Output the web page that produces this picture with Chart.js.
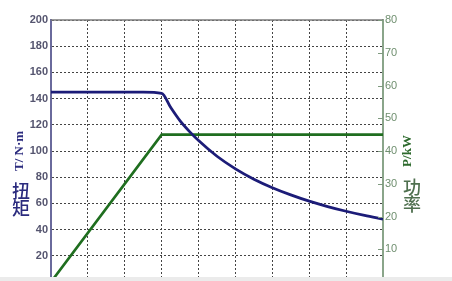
<!DOCTYPE html>
<html><head><meta charset="utf-8">
<script src="https://cdn.jsdelivr.net/npm/chart.js@4.4.0/dist/chart.umd.min.js"></script>
<style>
html,body{margin:0;padding:0;background:#fff;overflow:hidden;width:452px;height:281px;}
#wrap{position:absolute;left:0;top:0;width:452px;height:300px;}
#band{position:absolute;left:0;top:277px;width:452px;height:4px;background:#ebebeb;}
</style></head>
<body>
<div id="wrap"><canvas id="c" width="452" height="300"></canvas></div>
<div id="band"></div>
<script>
// Data
const torqueX = [0, 2.5, 3, 3.25, 3.5, 3.75, 4, 4.5, 5, 5.5, 6, 6.5, 7, 7.5, 8, 8.5, 9];
const torqueY = [145, 145, 144, 133, 123, 115, 108, 96, 86.4, 78.5, 72, 66.5, 61.7, 57.6, 54, 50.8, 48];
const powerX = [0, 3, 9];
const powerY = [0, 45, 45];
const leftTitle = "T/ N·m";
const leftTitleCn = ["扭", "矩"];
const rightTitle = "P/kW";
const rightTitleCn = ["功", "率"];

const pts = (xs, ys) => xs.map((x, i) => ({x: x, y: ys[i]}));

const deco = {
  id: 'deco',
  afterDraw(chart) {
    const ctx = chart.ctx, a = chart.chartArea;
    const r = chart.scales.y2;
    ctx.save();
    ctx.strokeStyle = '#7a7a7a'; ctx.lineWidth = 1.5;
    ctx.beginPath(); ctx.moveTo(a.left, a.top); ctx.lineTo(a.right, a.top); ctx.stroke();
    ctx.strokeStyle = '#7f9a7f'; ctx.lineWidth = 1;
    r.ticks.forEach(t => {
      const y = Math.round(r.getPixelForValue(t.value)) + 0.5;
      ctx.beginPath(); ctx.moveTo(a.right - 5, y); ctx.lineTo(a.right, y); ctx.stroke();
    });
    ctx.fillStyle = '#2b2b7e';
    ctx.font = 'bold 13px "Liberation Serif", serif';
    ctx.textAlign = 'center'; ctx.textBaseline = 'middle';
    ctx.save(); ctx.translate(20, 151); ctx.rotate(-Math.PI / 2); ctx.fillText(leftTitle, 0, 0); ctx.restore();
    ctx.font = '500 18px "Noto Sans CJK SC", sans-serif';
    ctx.fillText(leftTitleCn[0], 21, 191);
    ctx.fillText(leftTitleCn[1], 21, 208);
    ctx.fillStyle = '#2d6a2d';
    ctx.font = 'bold 13px "Liberation Serif", serif';
    ctx.save(); ctx.translate(408, 151); ctx.rotate(-Math.PI / 2); ctx.fillText(rightTitle, 0, 0); ctx.restore();
    ctx.fillStyle = '#4f704f';
    ctx.font = '500 18px "Noto Sans CJK SC", sans-serif';
    ctx.fillText(rightTitleCn[0], 412, 187);
    ctx.fillText(rightTitleCn[1], 412, 204);
    ctx.restore();
  }
};

new Chart(document.getElementById('c'), {
  type: 'line',
  data: {
    datasets: [
      {label: 'T', data: pts(torqueX, torqueY), yAxisID: 'y', borderColor: '#1c1c78', borderWidth: 2.8, pointRadius: 0, cubicInterpolationMode: 'monotone'},
      {label: 'P', data: pts(powerX, powerY), yAxisID: 'y2', borderColor: '#1f6e1f', borderWidth: 2.6, pointRadius: 0, tension: 0}
    ]
  },
  options: {
    responsive: false,
    animation: false,
    events: [],
    layout: {padding: {top: 20, left: 0, right: 0, bottom: 0}},
    plugins: {legend: {display: false}, tooltip: {enabled: false}},
    scales: {
      x: {
        type: 'linear', min: 0, max: 9,
        ticks: {display: false, stepSize: 1},
        grid: {color: '#444', lineWidth: 1, drawTicks: false},
        border: {display: false, dash: [2, 2]},
        afterFit: s => { s.height = 18; }
      },
      y: {
        position: 'left', min: 0, max: 200,
        ticks: {stepSize: 20, color: '#55556f', padding: 3, font: {family: 'Liberation Sans, Arial', size: 11, weight: 'bold'}},
        grid: {color: '#444', lineWidth: 1, drawTicks: false},
        border: {display: true, color: '#6a6a9c', width: 2, dash: [2, 2]},
        afterFit: s => { s.width = 51; }
      },
      y2: {
        position: 'right', min: 0, max: 80,
        ticks: {stepSize: 10, color: '#6f8f6f', padding: 2, font: {family: 'Liberation Sans, Arial', size: 11}},
        grid: {drawOnChartArea: false, drawTicks: false},
        border: {display: true, color: '#8aa58a', width: 2},
        afterFit: s => { s.width = 69; }
      }
    }
  },
  plugins: [deco]
});
</script>
</body></html>
